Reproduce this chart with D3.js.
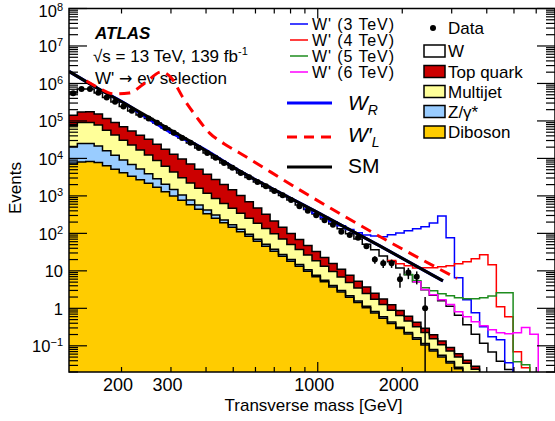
<!DOCTYPE html>
<html><head><meta charset="utf-8">
<script src="https://cdn.jsdelivr.net/npm/d3@7"></script>
<style>
html,body{margin:0;padding:0;background:#fff;}
svg{display:block;font-family:"Liberation Sans",Arial,Helvetica,sans-serif;}
</style></head><body>
<svg id="chart" width="555" height="421"></svg>
<script>
// Transverse-mass bin edges [GeV]
const binEdges = [130,139.2,149.1,159.8,171.1,183.3,196.3,210.3,225.3,241.3,258.5,276.9,296.6,317.6,340.3,364.5,390.4,418.2,447.9,479.8,513.9,550.4,589.6,631.6,676.5,724.6,776.2,831.4,890.5,953.9,1021.8,1094.5,1172.3,1255.8,1345.1,1440.8,1543.2,1653.1,1770.7,1896.7,2031.5,2176.2,2331.0,2496.8,2674.4,2864.8,3068.5,3286.8,3520.5,3771.2,4039.4,4326.7,4634.4,4964.2,5317.3,5695.4,6100.4,6534.6,7000];

// Background yields per bin (stacked bottom to top)
const diboson = [7130,8070,8320,7820,6390,5150,4160,3350,2700,2180,1690,1290,994,764,583,442,335,254,193,146,111,83.7,61.9,45.6,33.5,24.6,18.0,13.3,9.7,7.0,5.1,3.72,2.72,1.98,1.44,1.04,0.75,0.545,0.396,0.288,0.208,0.150,0.105,0.0727,0.0506,0.035,0.0244,0.0169,0.0117,0.008,0.006,0.004,0.003,0.002,0.0015,0.001,0.0007,0.0005];
const zgamma = [13760,17030,16810,13690,9650,7000,4950,3550,2510,1744,1158,742,477,298,195,128,85,55,36,25,17.6,11.6,8.0,5.7,4.0,2.8,2.0,1.4,0.97,0.67,0.48,0.35,0.26,0.19,0.137,0.099,0.071,0.052,0.038,0.027,0.020,0.014,0.010,0.007,0.005,0.0033,0.0023,0.0016,0.0011,0.0008,0.0006,0.0004,0.0003,0.0002,0.00015,0.0001,0.00007,0.00005];
const multijet = [54940,66010,66090,56570,40740,29890,21590,15800,11510,8437,5952,4105,2868,1991,1432,1037,752,541,398,294,217,159,115.7,83.1,59.6,43.2,30.8,22.2,15.8,11.0,7.76,5.49,3.89,2.73,1.93,1.35,0.935,0.66,0.46,0.328,0.228,0.158,0.110,0.074,0.0503,0.0342,0.0233,0.0157,0.0108,0.0073,0.0054,0.0035,0.0026,0.0017,0.0013,0.0008,0.0006,0.0004];
const topQuark = [65140,81450,84740,75350,59680,48510,38770,31260,25030,19850,15140,11290,8604,6564,4884,3551,2590,1879,1386,1000,674,445,292,187,117,74.8,47.8,31.7,21.3,14.0,9.28,6.16,4.09,2.68,1.79,1.20,0.781,0.528,0.351,0.237,0.156,0.102,0.068,0.043,0.028,0.0179,0.0113,0.0072,0.0048,0.0031,0.0023,0.0015,0.0011,0.0007,0.0005,0.0003,0.0002,0.00015];
const wBoson = [417000,541400,538000,404600,306500,230500,174100,130800,102700,84400,64560,47570,34920,25580,18810,13890,10250,7581,5577,4115,3085,2415,1884,1471,1145,886,683,506,388,298,221,163,121,89.4,66.0,47.2,33.8,23.3,16.2,11.1,7.2,4.67,2.82,2.02,1.45,1.04,0.589,0.322,0.175,0.098,0.054,0.0296,0.0164,0.0079,0.0037,0.0016,0.0007,0.0002];

// Observed events (first 43 bins; none above)
const dataCounts = [552000,716000,709000,561000,420000,323000,241000,186000,143000,116000,88900,64500,48100,35000,26000,19100,13900,10400,7550,5620,4080,3130,2350,1800,1350,1040,776,530,400,305,225,169,110,91,76,45,20,16,16,6,9,7,1];

// W' signal yields on top of the background, starting bin + per-bin values
const sig3Start = 28;
const sig3 = [10,14,20,26,27,29,33,40,49,56,74,91,109,127,146,188,291,74.8,5.86,1.33,0.556,0.204,0.107,0.106,0.012,0.003,0.001,0.0005,0.0002,0.0001];
const sig4Start = 38;
const sig4 = [1.5,3.4,5.8,6.9,8.9,9.8,11.2,12.5,14.7,17.0,20.7,26.6,14.4,1.06,0.57,0.057,0.019,0.005,0.002,0.001];
const sig5Start = 40;
const sig5 = [0.2,0.32,0.41,0.71,0.85,1.02,1.26,1.43,1.59,1.79,2.08,2.55,2.57,0.025,0.024,0.005,0.002,0.001];
const sig6Start = 41;
const sig6 = [0.04,0.05,0.08,0.1,0.13,0.157,0.23,0.233,0.224,0.2,0.183,0.186,0.21,0.3,0.2,0.003,0.001];

// Smooth predictions
const smMass = [130,166,213,349,526,975,1663,2793];
const smEvents = [2.1e6,7.13e5,2.51e5,2.93e4,4640,398,46.4,5.41];
const wrMass = [130,166,213,247,277,316,364,526,975,1663,2793];
const wrEvents = [2.1e6,7.13e5,2.51e5,1.2e5,6.92e4,3.98e4,2.44e4,4640,398,46.4,5.41];
const wlMass = [150,166,188,213,245,277,301,330,370,411,465,527,862,1884,3133];
const wlEvents = [1.17e6,7.6e5,5.25e5,5.58e5,1.1e6,2.03e6,1.4e6,4.36e5,1.28e5,4.8e4,2.44e4,1.4e4,1450,49,6.3];

// Axis labels
const xTickLabels = [200,300,1000,2000];
const yTickExps = [-1,0,1,2,3,4,5,6,7,8];

const L = 69, R = 555, T = 8.5, B = 372;
const x = d3.scaleLog().domain([130,7000]).range([L,R]);
const y = d3.scaleLog().domain([0.02,1e8]).range([B,T]);
const yc = v => y(Math.max(v,1e-4));

const svg = d3.select('#chart');
svg.append('defs').append('clipPath').attr('id','plotClip')
  .append('rect').attr('x',L).attr('y',T).attr('width',R-L).attr('height',B-T);

// top-left labels (under the curves)
const info = svg.append('g').attr('font-size',17).attr('fill','#000');
info.append('text').attr('x',95).attr('y',39).attr('font-weight','bold').attr('font-style','italic').text('ATLAS');
const t2 = info.append('text').attr('x',93).attr('y',62);
t2.append('tspan').text('\u221As = 13 TeV, 139 fb');
t2.append('tspan').attr('dy',-7).attr('font-size',11).text('-1');
const t3 = info.append('text').attr('x',95).attr('y',84);
t3.append('tspan').text('W\' ');
t3.append('tspan').attr('font-family','"DejaVu Sans",sans-serif').attr('font-size',16).text('\u2192');
t3.append('tspan').text(' e\u03BD selection');

const plot = svg.append('g').attr('clip-path','url(#plotClip)');

const nBins = binEdges.length - 1;
const layers = [
  {key:'Diboson', values:diboson, color:'#ffcc00'},
  {key:'Zgamma', values:zgamma, color:'#99ccff'},
  {key:'Multijet', values:multijet, color:'#ffff99'},
  {key:'Top', values:topQuark, color:'#cc0000'},
  {key:'W', values:wBoson, color:'#ffffff'}
];
const rows = d3.range(nBins).map(i => {
  const r = {}; layers.forEach(l => r[l.key] = l.values[i]); return r;
});
const stacked = d3.stack().keys(layers.map(l => l.key))(rows);
const total = d3.range(nBins).map(i => stacked[stacked.length-1][i][1]);

function stepPoints(getLo, getHi, from, to) {
  const pts = [];
  for (let i = from; i < to; i++) {
    pts.push({m:binEdges[i], lo:getLo(i), hi:getHi(i)});
    pts.push({m:binEdges[i+1], lo:getLo(i), hi:getHi(i)});
  }
  return pts;
}
const area = d3.area().x(d => x(d.m)).y0(d => yc(d.lo)).y1(d => yc(d.hi));
const stepLine = d3.line().x(d => x(d.m)).y(d => yc(d.hi));

stacked.forEach((s, k) => {
  const pts = stepPoints(i => s[i][0], i => s[i][1], 0, nBins);
  plot.append('path').attr('d', area(pts)).attr('fill', layers[k].color).attr('stroke','none');
});
stacked.forEach(s => {
  const pts = stepPoints(i => s[i][0], i => s[i][1], 0, nBins);
  plot.append('path').attr('d', stepLine(pts)).attr('fill','none').attr('stroke','#000').attr('stroke-width',1.5);
});

// signal histograms stacked on the background
const signals = [
  {start:sig3Start, vals:sig3, color:'#0000ff'},
  {start:sig4Start, vals:sig4, color:'#ff0000'},
  {start:sig5Start, vals:sig5, color:'#1e8c1e'},
  {start:sig6Start, vals:sig6, color:'#ff00ff'}
];
signals.forEach(sg => {
  const pts = stepPoints(() => 0, i => total[i] + sg.vals[i - sg.start], sg.start, sg.start + sg.vals.length);
  plot.append('path').attr('d', stepLine(pts)).attr('fill','none').attr('stroke', sg.color).attr('stroke-width',1.5);
});

const curve = d3.line().curve(d3.curveMonotoneX);
const linePts = (ms, es) => ms.map((m, i) => [x(m), y(es[i])]);
plot.append('path').attr('d', curve(linePts(wrMass, wrEvents))).attr('fill','none').attr('stroke','#0000ff').attr('stroke-width',3);
plot.append('path').attr('d', curve(linePts(smMass, smEvents))).attr('fill','none').attr('stroke','#000').attr('stroke-width',3);
plot.append('path').attr('d', curve(linePts(wlMass, wlEvents))).attr('fill','none').attr('stroke','#ff0000').attr('stroke-width',3).attr('stroke-dasharray','11,7');

// data with Poisson error bars
const dataG = plot.append('g');
dataCounts.forEach((n, i) => {
  const cx = x(Math.sqrt(binEdges[i]*binEdges[i+1]));
  const err = Math.sqrt(n);
  dataG.append('line').attr('x1',cx).attr('x2',cx)
    .attr('y1', yc(n + err)).attr('y2', yc(Math.max(n - err, 1e-4)))
    .attr('stroke','#000').attr('stroke-width',1.5);
  dataG.append('circle').attr('cx',cx).attr('cy',y(n)).attr('r',3).attr('fill','#000');
});

// frame and ticks
const ax = svg.append('g').attr('stroke','#000');
ax.append('rect').attr('x',L).attr('y',T).attr('width',R-L).attr('height',B-T)
  .attr('fill','none').attr('stroke-width',1.5);
const xTicks = [200,300,400,500,600,700,800,900,1000,2000,3000,4000,5000,6000,7000];
xTicks.forEach(m => {
  const len = (m === 1000) ? 10 : 5;
  ax.append('line').attr('x1',x(m)).attr('x2',x(m)).attr('y1',B).attr('y2',B-len).attr('stroke-width',1.2);
  ax.append('line').attr('x1',x(m)).attr('x2',x(m)).attr('y1',T).attr('y2',T+len).attr('stroke-width',1.2);
});
for (let e = -2; e <= 8; e++) {
  for (let k = 1; k <= 9; k++) {
    const v = k * Math.pow(10, e);
    if (v < 0.0199 || v > 1.01e8) continue;
    const len = (k === 1) ? 18 : 9;
    ax.append('line').attr('x1',L).attr('x2',L+len).attr('y1',y(v)).attr('y2',y(v)).attr('stroke-width',1.2);
    ax.append('line').attr('x1',R).attr('x2',R-len).attr('y1',y(v)).attr('y2',y(v)).attr('stroke-width',1.2);
  }
}

// tick labels
const lab = svg.append('g').attr('fill','#000');
xTickLabels.forEach(m => {
  lab.append('text').attr('x', x(m) - 3.5).attr('y', 391).attr('text-anchor','middle')
    .attr('font-size',18).text(m);
});
yTickExps.forEach(e => {
  const t = lab.append('text').attr('x',63).attr('y', y(Math.pow(10,e)) + (e === 8 ? 8 : 6.5))
    .attr('text-anchor','end').attr('font-size',16.5);
  if (e === 0) t.text('1');
  else if (e === 1) t.text('10');
  else {
    t.append('tspan').text('10');
    t.append('tspan').attr('dy',-6).attr('font-size',11).text(e < 0 ? '\u2212' + (-e) : e);
  }
});
lab.append('text').attr('x',313.5).attr('y',411).attr('text-anchor','middle').attr('font-size',17).text('Transverse mass [GeV]');
lab.append('text').attr('transform','translate(21,188) rotate(-90)').attr('text-anchor','middle').attr('font-size',17).text('Events');

// legend: signal masses
const legSig = [
  {label:"W' (3 TeV)", color:'#0000ff', yy:24},
  {label:"W' (4 TeV)", color:'#ff0000', yy:40},
  {label:"W' (5 TeV)", color:'#1e8c1e', yy:56},
  {label:"W' (6 TeV)", color:'#ff00ff', yy:72}
];
const leg = svg.append('g');
legSig.forEach(d => {
  leg.append('line').attr('x1',290).attr('x2',308).attr('y1',d.yy).attr('y2',d.yy).attr('stroke',d.color).attr('stroke-width',1.5);
  leg.append('text').attr('x',312).attr('y',d.yy+5.5).attr('font-size',16).attr('textLength',82).text(d.label);
});
// legend: model curves
leg.append('line').attr('x1',287).attr('x2',332).attr('y1',103).attr('y2',103).attr('stroke','#0000ff').attr('stroke-width',3);
leg.append('line').attr('x1',287).attr('x2',332).attr('y1',137).attr('y2',137).attr('stroke','#ff0000').attr('stroke-width',3).attr('stroke-dasharray','10,7');
leg.append('line').attr('x1',287).attr('x2',332).attr('y1',167).attr('y2',167).attr('stroke','#000').attr('stroke-width',3);
const wr = leg.append('text').attr('x',348).attr('y',110).attr('font-size',21).attr('font-style','italic');
wr.append('tspan').text('W');
wr.append('tspan').attr('dy',5).attr('font-size',14).text('R');
const wl = leg.append('text').attr('x',348).attr('y',142).attr('font-size',21).attr('font-style','italic');
wl.append('tspan').text('W\u2032');
wl.append('tspan').attr('dy',5).attr('font-size',14).text('L');
leg.append('text').attr('x',348).attr('y',173).attr('font-size',21).text('SM');
// legend: data and backgrounds
leg.append('circle').attr('cx',433).attr('cy',28).attr('r',3).attr('fill','#000');
leg.append('text').attr('x',448).attr('y',34).attr('font-size',17).text('Data');
const legBkg = [
  {label:'W', color:'#ffffff', yy:51},
  {label:'Top quark', color:'#cc0000', yy:71.5},
  {label:'Multijet', color:'#ffff99', yy:91.5},
  {label:'Z/\u03B3*', color:'#99ccff', yy:111.5},
  {label:'Diboson', color:'#ffcc00', yy:132}
];
legBkg.forEach(d => {
  leg.append('rect').attr('x',424).attr('y',d.yy-6).attr('width',21).attr('height',12)
    .attr('fill',d.color).attr('stroke','#000').attr('stroke-width',1.5);
  leg.append('text').attr('x',448).attr('y',d.yy+6).attr('font-size',17).text(d.label);
});
</script>
</body></html>
